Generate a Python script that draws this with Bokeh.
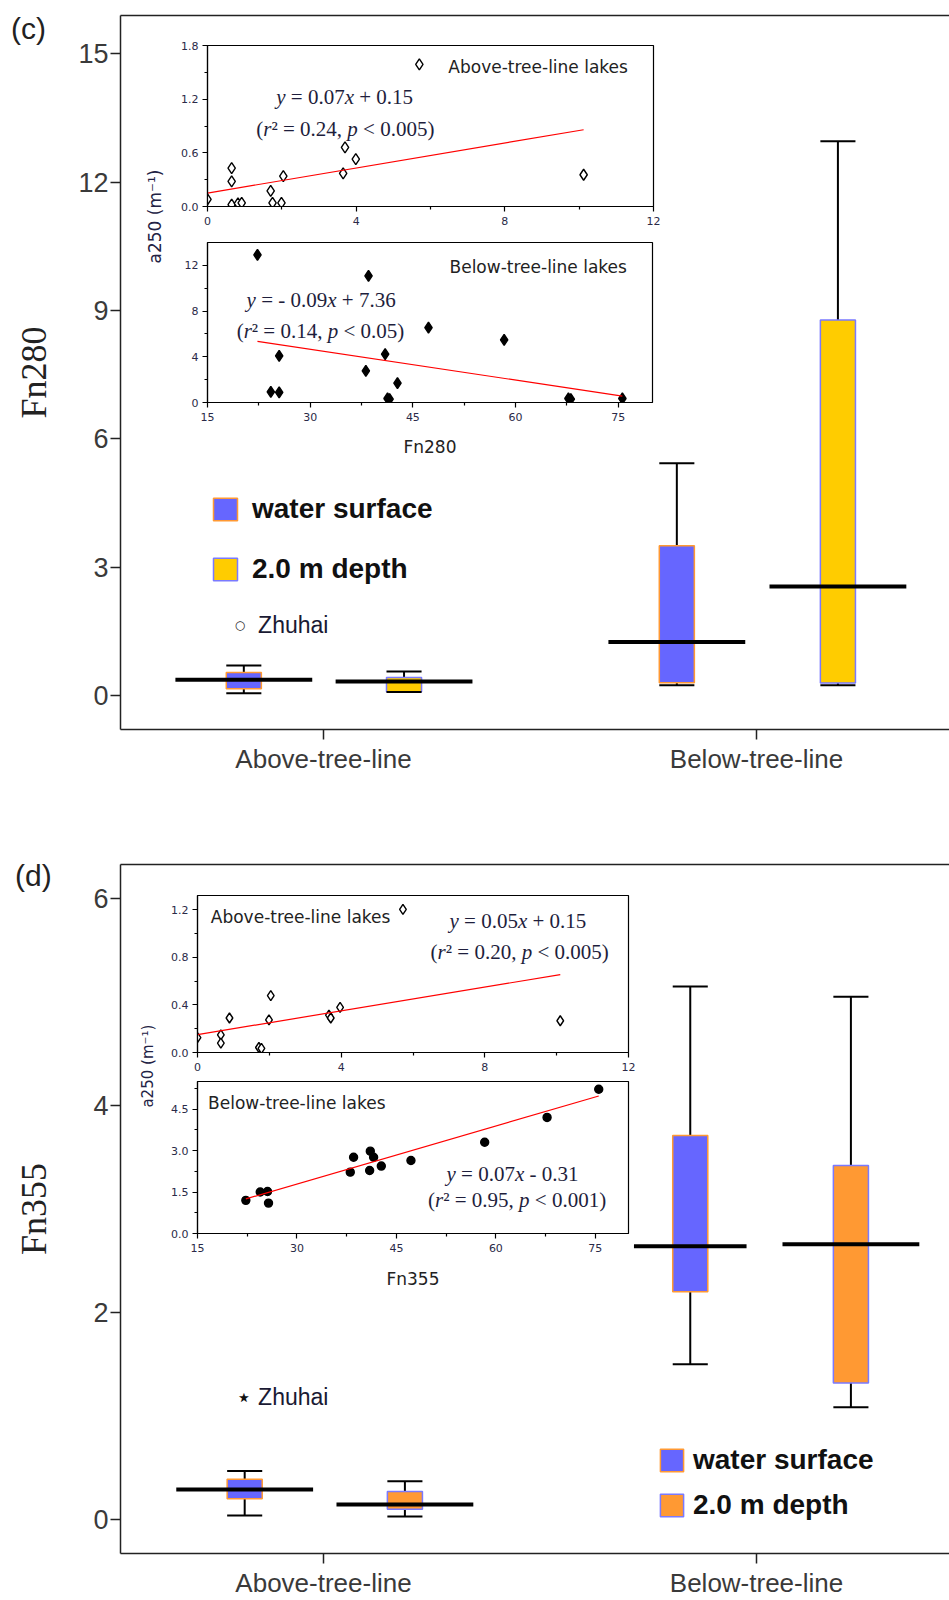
import math
from bokeh.plotting import figure
from bokeh.models import (Range1d, FixedTicker, LinearAxis, Label, Legend, LegendItem,
                          ColumnDataSource, NumeralTickFormatter, Div)
from bokeh.layouts import column
from bokeh.embed import file_html
from bokeh.resources import INLINE

# ---------------- data ----------------
categories = ["Above-tree-line", "Below-tree-line"]
cat_pos = [1, 2]
series = ["water surface", "2.0 m depth"]

# (c) Fn280 box statistics  [Above, Below]
fn280_surface_min = [0.05, 0.24]
fn280_surface_q1 = [0.16, 0.30]
fn280_surface_med = [0.37, 1.25]
fn280_surface_q3 = [0.54, 3.50]
fn280_surface_max = [0.70, 5.43]
fn280_depth_min = [0.08, 0.24]
fn280_depth_q1 = [0.09, 0.29]
fn280_depth_med = [0.33, 2.55]
fn280_depth_q3 = [0.42, 8.78]
fn280_depth_max = [0.56, 12.96]

# (d) Fn355 box statistics  [Above, Below]
fn355_surface_min = [0.04, 1.50]
fn355_surface_q1 = [0.20, 2.20]
fn355_surface_med = [0.29, 2.64]
fn355_surface_q3 = [0.39, 3.71]
fn355_surface_max = [0.47, 5.15]
fn355_depth_min = [0.03, 1.085]
fn355_depth_q1 = [0.10, 1.32]
fn355_depth_med = [0.145, 2.66]
fn355_depth_q3 = [0.27, 3.42]
fn355_depth_max = [0.37, 5.05]

# inset (c) above-tree-line lakes: Fn280 vs a250
c_above_fn = [0.0, 0.65, 0.65, 0.65, 0.82, 0.92, 1.70, 1.75, 1.99, 2.04, 3.65, 3.70, 3.99, 5.70, 10.12]
c_above_a250 = [0.08, 0.43, 0.28, 0.02, 0.035, 0.04, 0.175, 0.04, 0.04, 0.34, 0.37, 0.66, 0.53, 1.59, 0.355]
c_above_fit = [0.07, 0.15]
# inset (c) below-tree-line lakes
c_below_fn = [22.3, 24.25, 25.47, 25.47, 38.13, 38.52, 40.95, 41.3, 41.6, 42.75, 47.28, 58.33, 67.72, 68.07, 75.6]
c_below_a250 = [12.92, 0.93, 0.88, 4.08, 2.77, 11.08, 4.23, 0.35, 0.30, 1.69, 6.56, 5.48, 0.35, 0.30, 0.35]
c_below_fit = [-0.09, 7.36]
# inset (d) above-tree-line lakes: Fn355 vs a250
d_above_fn = [0.0, 0.65, 0.65, 0.89, 1.71, 1.78, 1.99, 2.04, 3.66, 3.71, 3.97, 5.72, 10.10]
d_above_a250 = [0.126, 0.149, 0.079, 0.29, 0.042, 0.034, 0.275, 0.478, 0.315, 0.29, 0.38, 1.203, 0.267]
d_above_fit = [0.05, 0.15]
# inset (d) below-tree-line lakes
d_below_fn = [22.29, 24.46, 25.56, 25.71, 38.04, 38.54, 40.96, 41.06, 41.56, 42.72, 47.19, 58.31, 67.72, 75.51]
d_below_a250 = [1.20, 1.50, 1.52, 1.10, 2.22, 2.76, 2.28, 2.98, 2.76, 2.44, 2.64, 3.30, 4.20, 5.22]
d_below_fit = [0.07, -0.31]

# ---------------- style / layout constants ----------------
BLUE = "#6666FF"
YELLOW = "#FFCC00"
ORANGE = "#FF9933"
DEPTH_LINE = "#7A7AFF"
BOX_W = 0.081
TICK_COLOR = "#3a3a3a"
INSET_TXT = "#2a2a48"
EQ_COLOR = "#1e1e3c"
NBSP = "\u00a0"

X_START, X_END = 0.5312, 2.4457

# Times / Liberation Serif advance widths (em) for the equation runs
SERIF_W = {NBSP: 0.25, " ": 0.25, "=": 0.564, "+": 0.564, "<": 0.564, "-": 0.333, ".": 0.25,
           ",": 0.25, "(": 0.333, ")": 0.333, "²": 0.3}
ITALIC_W = {"y": 0.444, "x": 0.444, "r": 0.389, "p": 0.5}


def run_width(s, italic, size):
    w = 0.0
    for ch in s:
        w += (ITALIC_W.get(ch, 0.5) if italic else SERIF_W.get(ch, 0.5))
    return w * size


def stats(mn, q1, md, q3, mx):
    return dict(lo=mn, q1=q1, med=md, q3=q3, hi=mx)


def draw_boxes(p, st, offsets, med_w, fill, line):
    xs = [c + o for c, o in zip(cat_pos, offsets)]
    d = dict(st)
    d["x"] = xs
    d["x0"] = [x - BOX_W / 2 for x in xs]
    d["x1"] = [x + BOX_W / 2 for x in xs]
    d["m0"] = [x - w / 2 for x, w in zip(xs, med_w)]
    d["m1"] = [x + w / 2 for x, w in zip(xs, med_w)]
    src = ColumnDataSource(d)
    p.segment("x", "q3", "x", "hi", source=src, line_color="black", line_width=2)
    p.segment("x", "q1", "x", "lo", source=src, line_color="black", line_width=2)
    r = p.vbar(x="x", width=BOX_W, top="q3", bottom="q1", source=src,
               fill_color=fill, line_color=line, line_width=1.5)
    p.segment("x0", "hi", "x1", "hi", source=src, line_color="black", line_width=2)
    p.segment("x0", "lo", "x1", "lo", source=src, line_color="black", line_width=2)
    p.segment("m0", "med", "m1", "med", source=src, line_color="black", line_width=4)
    return r


def make_main(top_b, bottom_b, yr, yticks, ylabel, ylabel_standoff):
    p = figure(width=949, height=800,
               x_range=Range1d(X_START, X_END), y_range=Range1d(*yr),
               min_border_left=120, min_border_right=0,
               min_border_top=top_b, min_border_bottom=bottom_b,
               output_backend="svg", toolbar_location=None, frame_align=False)
    p.outline_line_color = None
    p.grid.visible = False
    xa, ya = p.below[0], p.left[0]
    for ax in (xa, ya):
        ax.axis_line_width = 1.5
        ax.axis_line_color = "#222222"
        ax.major_tick_line_width = 1.5
        ax.major_tick_line_color = "#222222"
        ax.major_tick_out = 10
        ax.major_tick_in = 0
        ax.minor_tick_line_color = None
        ax.major_label_text_font = "Liberation Sans"
        ax.major_label_text_color = TICK_COLOR
    ya.ticker = FixedTicker(ticks=yticks)
    ya.major_label_text_font_size = "27px"
    ya.major_label_standoff = 2
    ya.axis_label = ylabel
    ya.axis_label_text_font = "Liberation Serif"
    ya.axis_label_text_font_size = "36px"
    ya.axis_label_text_font_style = "normal"
    ya.axis_label_text_color = "#222222"
    ya.axis_label_standoff = ylabel_standoff
    xa.ticker = FixedTicker(ticks=cat_pos)
    xa.major_label_overrides = {c: n for c, n in zip(cat_pos, categories)}
    xa.major_label_text_font_size = "26px"
    xa.major_label_standoff = 4
    top_ax = LinearAxis(ticker=FixedTicker(ticks=[]), major_label_text_font_size="0px",
                        major_tick_out=0, minor_tick_out=0, major_tick_in=0, minor_tick_in=0,
                        major_tick_line_color=None, minor_tick_line_color=None,
                        axis_line_width=1.5, axis_line_color="#222222")
    p.add_layout(top_ax, "above")
    return p


def make_inset(frame_left, frame_top, fw, fh, xr, yr, xt, xmt, yt, ymt, yfmt,
               xlabel=None, xlabel_standoff=14):
    L, T, R = 40, 10, 14
    B = 72 if xlabel else 32
    f = figure(width=L + fw + R, height=T + fh + B, x_range=Range1d(*xr), y_range=Range1d(*yr),
               min_border_left=L, min_border_right=R, min_border_top=T, min_border_bottom=B,
               output_backend="svg", toolbar_location=None, frame_align=False,
               border_fill_color=None, background_fill_color=None)
    f.styles = {"position": "absolute", "left": f"{frame_left - L}px", "top": f"{frame_top - T}px"}
    f.grid.visible = False
    f.outline_line_color = "black"
    f.outline_line_width = 1.2
    for ax in (f.below[0], f.left[0]):
        ax.axis_line_color = "black"
        ax.axis_line_width = 1.2
        ax.major_tick_out = 5
        ax.major_tick_in = 0
        ax.minor_tick_out = 3
        ax.minor_tick_in = 0
        ax.major_tick_line_width = 1.2
        ax.minor_tick_line_width = 1.2
        ax.major_label_text_font = "DejaVu Sans"
        ax.major_label_text_font_size = "11px"
        ax.major_label_text_color = INSET_TXT
    f.below[0].ticker = FixedTicker(ticks=xt, minor_ticks=xmt)
    f.left[0].ticker = FixedTicker(ticks=yt, minor_ticks=ymt)
    f.below[0].formatter = NumeralTickFormatter(format="0")
    f.left[0].formatter = NumeralTickFormatter(format=yfmt)
    f.below[0].major_label_standoff = 5
    f.left[0].major_label_standoff = 4
    if xlabel:
        xa = f.below[0]
        xa.axis_label = xlabel
        xa.axis_label_text_font = "DejaVu Sans"
        xa.axis_label_text_font_size = "17px"
        xa.axis_label_text_font_style = "normal"
        xa.axis_label_text_color = "#222222"
        xa.axis_label_standoff = xlabel_standoff
    return f


def add_points_fit(f, xs, ys, fit, marker, size, fill):
    f.scatter(xs, ys, marker=marker, size=size, fill_color=fill, line_color="black", line_width=1.4)
    lx = [min(xs), max(xs)]
    ly = [fit[0] * x + fit[1] for x in lx]
    f.line(lx, ly, line_color="red", line_width=1.2)


def txt(f, x, y, text, font, size, align="center", color="#1e1e3c", angle=0.0, baseline="middle"):
    f.add_layout(Label(x=x, y=y, text=text, text_font=font, text_font_size=size,
                       text_align=align, text_baseline=baseline, text_color=color, angle=angle))


def eq(f, x, y, runs, size=21):
    """Centered mixed italic/upright serif text; runs = [(text, italic), ...]."""
    runs = [(s.replace(" ", NBSP), it) for s, it in runs]
    total = sum(run_width(s, it, size) for s, it in runs)
    off = -total / 2
    for s, it in runs:
        f.add_layout(Label(x=x, y=y, x_offset=off, text=s, text_font="Liberation Serif",
                           text_font_size=f"{size}px", text_font_style="italic" if it else "normal",
                           text_align="left", text_baseline="middle", text_color=EQ_COLOR))
        off += run_width(s, it, size)


def add_legend(p, loc, items, gw, gh, spacing, standoff, size, style="bold"):
    leg = Legend(items=items, location=loc, glyph_width=gw, glyph_height=gh, spacing=spacing,
                 label_standoff=standoff, label_text_font="Liberation Sans",
                 label_text_font_size=size, label_text_font_style=style,
                 label_text_color="#111111", padding=0, margin=0,
                 border_line_color=None, background_fill_alpha=0)
    p.add_layout(leg)


def panel_tag(text, left, top):
    return Div(text=f'<span style="font-family: \'Liberation Sans\'; font-size: 30px; '
                    f'line-height: 34px; color: #222222;">{text}</span>',
               width=60, height=36, margin=(0, 0, 0, 0),
               styles={"position": "absolute", "left": f"{left}px", "top": f"{top}px"})


# ---------------- panel (c) ----------------
pc = make_main(15, 71, (-0.795, 15.90), [0, 3, 6, 9, 12, 15], "Fn280", 21)
r_cs = draw_boxes(pc, stats(fn280_surface_min, fn280_surface_q1, fn280_surface_med,
                            fn280_surface_q3, fn280_surface_max),
                  [-0.184, -0.184], [0.316, 0.316], BLUE, ORANGE)
r_cd = draw_boxes(pc, stats(fn280_depth_min, fn280_depth_q1, fn280_depth_med,
                            fn280_depth_q3, fn280_depth_max),
                  [0.186, 0.188], [0.316, 0.316], YELLOW, DEPTH_LINE)
add_legend(pc, (90, 144), [LegendItem(label=series[0], renderers=[r_cs]),
                           LegendItem(label=series[1], renderers=[r_cd])],
           30, 28, 28, 12, "28px")
txt(pc, 0.807, 1.637, "○", "DejaVu Sans", "12px", color="#222222")
txt(pc, 0.849, 1.637, "Zhuhai", "Liberation Sans", "23px", "left", "#1a1a33")
txt(pc, 0.611, 11.2, "a250 (m⁻¹)", "DejaVu Sans", "17px", color="#222244", angle=math.pi / 2)

# ---------------- panel (d) ----------------
pd_ = make_main(64, 46, (-0.328, 6.328), [0, 2, 4, 6], "Fn355", 36)
r_ds = draw_boxes(pd_, stats(fn355_surface_min, fn355_surface_q1, fn355_surface_med,
                             fn355_surface_q3, fn355_surface_max),
                  [-0.182, -0.153], [0.316, 0.26], BLUE, ORANGE)
r_dd = draw_boxes(pd_, stats(fn355_depth_min, fn355_depth_q1, fn355_depth_med,
                             fn355_depth_q3, fn355_depth_max),
                  [0.188, 0.218], [0.316, 0.316], ORANGE, DEPTH_LINE)
add_legend(pd_, (537, 32), [LegendItem(label=series[0], renderers=[r_ds]),
                            LegendItem(label=series[1], renderers=[r_dd])],
           29, 28, 13, 7, "28px")
txt(pd_, 0.816, 1.186, "⋆", "DejaVu Sans", "26px", color="#111111")
txt(pd_, 0.849, 1.186, "Zhuhai", "Liberation Sans", "23px", "left", "#1a1a33")
txt(pd_, 0.594, 4.38, "a250 (m⁻¹)", "DejaVu Sans", "15px", color="#222244", angle=math.pi / 2)

# ---------------- insets ----------------
i1 = make_inset(207, 45, 446, 161, (0, 12), (0, 1.8), [0, 4, 8, 12], [2, 6, 10],
                [0, 0.6, 1.2, 1.8], [0.3, 0.9, 1.5], "0.0")
add_points_fit(i1, c_above_fn, c_above_a250, c_above_fit, "diamond", 11, "white")
txt(i1, 6.48, 1.557, "Above-tree-line lakes", "DejaVu Sans", "17px", "left", "#222222")
eq(i1, 3.69, 1.222, [("y", True), (" = 0.07", False), ("x", True), (" + 0.15", False)])
eq(i1, 3.71, 0.869, [("(", False), ("r", True), ("² = 0.24, ", False), ("p", True), (" < 0.005)", False)])

i2 = make_inset(207, 242, 445, 160, (15, 80), (0, 14), [15, 30, 45, 60, 75], [22.5, 37.5, 52.5, 67.5],
                [0, 4, 8, 12], [2, 6, 10], "0", xlabel="Fn280", xlabel_standoff=13)
add_points_fit(i2, c_below_fn, c_below_a250, c_below_fit, "diamond", 11, "black")
txt(i2, 50.35, 11.9, "Below-tree-line lakes", "DejaVu Sans", "17px", "left", "#222222")
eq(i2, 31.6, 8.99, [("y", True), (" = - 0.09", False), ("x", True), (" + 7.36", False)])
eq(i2, 31.5, 6.3, [("(", False), ("r", True), ("² = 0.14, ", False), ("p", True), (" < 0.05)", False)])

i3 = make_inset(197, 895, 431, 157, (0, 12), (0, 1.32), [0, 4, 8, 12], [2, 6, 10],
                [0, 0.4, 0.8, 1.2], [0.2, 0.6, 1.0], "0.0")
add_points_fit(i3, d_above_fn, d_above_a250, d_above_fit, "diamond", 10, "white")
txt(i3, 0.37, 1.143, "Above-tree-line lakes", "DejaVu Sans", "17px", "left", "#222222")
eq(i3, 8.92, 1.104, [("y", True), (" = 0.05", False), ("x", True), (" + 0.15", False)])
eq(i3, 8.97, 0.849, [("(", False), ("r", True), ("² = 0.20, ", False), ("p", True), (" < 0.005)", False)])

i4 = make_inset(197, 1081, 431, 152, (15, 80), (0, 5.5), [15, 30, 45, 60, 75], [22.5, 37.5, 52.5, 67.5],
                [0, 1.5, 3.0, 4.5], [0.75, 2.25, 3.75, 5.25], "0.0", xlabel="Fn355", xlabel_standoff=14)
add_points_fit(i4, d_below_fn, d_below_a250, d_below_fit, "circle", 8, "black")
txt(i4, 16.6, 4.74, "Below-tree-line lakes", "DejaVu Sans", "17px", "left", "#222222")
eq(i4, 62.5, 2.16, [("y", True), (" = 0.07", False), ("x", True), (" - 0.31", False)])
eq(i4, 63.2, 1.22, [("(", False), ("r", True), ("² = 0.95, ", False), ("p", True), (" < 0.001)", False)])

tag_c = panel_tag("(c)", 11, 12)
tag_d = panel_tag("(d)", 15, 859)

p = column(pc, pd_, i1, i2, i3, i4, tag_c, tag_d, styles={"position": "relative"})

open("out.html", "w").write(file_html(p, INLINE))
